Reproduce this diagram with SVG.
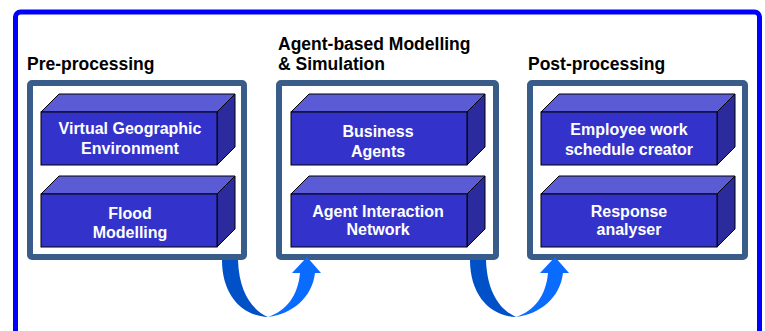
<svg xmlns="http://www.w3.org/2000/svg" width="765" height="331" viewBox="0 0 765 331">
<style>
.frame{fill:#fff;stroke:#0000ff;stroke-width:5}
.panel{fill:#fff;stroke:#3a5c88;stroke-width:6}
.front{fill:#3333cc;stroke:#000;stroke-width:1}
.top{fill:#5b5bd6;stroke:#000;stroke-width:1}
.side{fill:#2b2b9e;stroke:#000;stroke-width:1}
.lbl{font-family:"Liberation Sans",Arial,sans-serif;font-weight:bold;font-size:16px;fill:#fff;text-anchor:middle}
.head{font-family:"Liberation Sans",Arial,sans-serif;font-weight:bold;font-size:17.5px;fill:#000}
.dark{fill:#0050c8}
.light{fill:#0a6cff}
</style>
<defs>
<g id="box">
<polygon class="top" points="0,0 18,-18 194,-18 176,0"/>
<polygon class="side" points="176,0 194,-18 194,35 176,53"/>
<rect class="front" x="0" y="0" width="176" height="53"/>
</g>
<g id="arrow">
<path class="dark" d="M222,260 L238,260 C239,292 252,310 268,317 C242,316 222,295 222,260 Z"/>
<path class="light" d="M268,317 C292,314 312,298 315,273 L321,273 L307,257 L292,273 L300,273 C298,296 286,311 268,317 Z"/>
</g>
</defs>
<rect class="frame" x="15.5" y="12" width="744" height="400" rx="5"/>

<g id="pre">
<text class="head" x="27" y="70">Pre-processing</text>
<rect class="panel" x="30" y="83" width="214" height="174" rx="2"/>
<g id="vge">
<use href="#box" x="41" y="112"/>
<text class="lbl" x="130" y="134">Virtual Geographic</text>
<text class="lbl" x="130" y="154">Environment</text>
</g>
<g id="flood">
<use href="#box" x="41" y="194"/>
<text class="lbl" x="130" y="219">Flood</text>
<text class="lbl" x="130" y="238">Modelling</text>
</g>
</g>

<g id="abms">
<text class="head" x="278" y="50">Agent-based Modelling</text>
<text class="head" x="278" y="70">&amp; Simulation</text>
<rect class="panel" x="279" y="83" width="217" height="174" rx="2"/>
<g id="business">
<use href="#box" x="291" y="112"/>
<text class="lbl" x="378" y="137">Business</text>
<text class="lbl" x="378" y="157">Agents</text>
</g>
<g id="ain">
<use href="#box" x="291" y="194"/>
<text class="lbl" x="378" y="217">Agent Interaction</text>
<text class="lbl" x="378" y="235">Network</text>
</g>
</g>

<g id="post">
<text class="head" x="528" y="70">Post-processing</text>
<rect class="panel" x="530" y="83" width="215" height="174" rx="2"/>
<g id="ewsc">
<use href="#box" x="541" y="112"/>
<text class="lbl" x="629" y="135">Employee work</text>
<text class="lbl" x="629" y="155">schedule creator</text>
</g>
<g id="ra">
<use href="#box" x="541" y="194"/>
<text class="lbl" x="629" y="217">Response</text>
<text class="lbl" x="629" y="235">analyser</text>
</g>
</g>

<g id="connectors">
<use href="#arrow"/>
<use href="#arrow" x="248"/>
</g>
</svg>
